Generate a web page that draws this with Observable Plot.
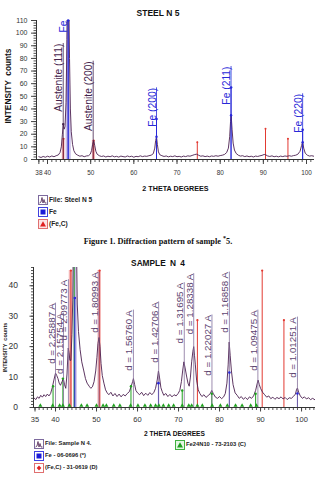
<!DOCTYPE html>
<html><head><meta charset="utf-8">
<script src="https://cdn.jsdelivr.net/npm/d3@7"></script>
<script src="https://cdn.jsdelivr.net/npm/@observablehq/plot@0.6"></script>
<style>
body{margin:0;background:#fff;}
#page{position:relative;width:316px;height:478px;overflow:hidden;font-family:"Liberation Sans",Arial,sans-serif;}
#page > svg{position:absolute;left:0;}
.title{position:absolute;left:0;width:316px;text-align:center;font-weight:bold;color:#111;}
.leg{position:absolute;font-weight:bold;color:#222;display:flex;align-items:center;white-space:nowrap;line-height:1;}
.leg svg{margin-right:1px;flex:none}
.caption{position:absolute;left:0;width:316px;text-align:center;font-family:"Liberation Serif","Times New Roman",serif;font-weight:bold;font-size:8.3px;color:#111;}
</style></head>
<body><div id="page"></div>
<script>
// ---------- TOP CHART DATA (STEEL N 5) ----------
const topTitle = "STEEL N 5";
const topTheta = [38.0,38.5,39.0,39.5,40.0,40.5,41.0,41.5,42.0,42.5,42.9,43.2,43.45,43.65,43.85,44.05,44.3,44.5,44.7,44.9,45.1,45.3,45.5,45.8,46.1,46.5,47.0,47.5,48.0,48.5,49.0,49.5,49.9,50.2,50.45,50.7,50.95,51.2,51.5,52.0,52.5,53.0,53.5,54.0,54.5,55.0,55.5,56.0,56.5,57.0,57.5,58.0,58.5,59.0,59.5,60.0,60.5,61.0,61.5,62.0,62.5,63.0,63.5,64.0,64.5,64.85,65.05,65.25,65.45,65.7,66.0,66.5,67.0,67.5,68.0,68.5,69.0,69.5,70.0,70.5,71.0,71.5,72.0,72.5,73.0,73.5,74.0,74.5,75.0,75.5,76.0,76.5,77.0,77.5,78.0,78.5,79.0,79.5,80.0,80.5,81.0,81.5,81.9,82.2,82.4,82.55,82.75,83.0,83.3,83.7,84.2,84.7,85.2,85.7,86.2,86.7,87.2,87.7,88.2,88.7,89.2,89.7,90.2,90.6,91.0,91.5,92.0,92.5,93.0,93.5,94.0,94.5,95.0,95.5,96.0,96.5,97.0,97.5,98.0,98.5,98.85,99.1,99.35,99.7,100.2,100.7,101.2,101.8];
const topCounts = [2.2,1.6,2.4,1.8,2.6,2.0,2.8,2.2,3.0,3.6,5.5,10,20,28,24,26,45,95,150,140,80,40,22,12,7,4.5,3.4,2.6,3.0,2.2,2.8,3.0,4.2,7,12,15,11,6.5,4.2,3.0,2.4,2.8,2.0,2.6,2.2,2.9,2.1,2.5,1.9,2.7,2.3,2.0,2.8,2.2,2.6,1.8,2.5,2.2,2.9,2.3,2.7,2.5,3.0,3.4,4.6,9,15,18,12,6,3.8,3.0,2.4,2.8,2.1,2.6,2.3,2.9,2.2,2.5,2.0,2.7,2.3,2.9,2.6,3.2,3.8,4.2,3.4,2.6,2.9,2.3,2.7,2.2,2.8,2.5,3.0,2.6,3.1,3.4,4.0,5.5,9,18,30,35,24,13,7.5,4.8,3.4,2.7,3.0,2.3,2.8,2.2,2.6,2.0,2.7,2.4,2.9,3.3,4.0,3.6,2.8,2.4,2.9,2.2,2.6,2.1,2.7,2.3,2.8,2.5,3.0,2.6,3.1,3.4,4.2,6.5,11,14,9,5,3.4,2.7,3.0,2.5];
const topLabelText = ["Austenite (111)","Fe","Austenite (200)","Fe (200)","Fe (211)","Fe (220)"];
const topLabelTheta = [43.64,44.79,50.58,65.25,82.52,99.1];
const topLabelTop = [91.8,110,77.8,56.7,73.6,52];
const topLabelPhase = ["A","Fe","A","Fe","Fe","Fe"];
const topFeTheta = [44.79,65.25,82.52,99.1];
const topFeRef = [110,32,57,23.5];
const topFeCTheta = [43.72,50.7,74.7,90.5,95.7];
const topFeCRef = [16.4,15,13.7,24.3,16.4];
const topPeakTheta = [43.64,65.25,82.52,99.1];
const topPeakCount = [28,18,35,13.7];
const topPeakPhase = ["A","Fe","Fe","Fe"];
const topXTicks = [38,40,50,60,70,80,90,100];
const topYTicks = [0,10,20,30,40,50,60,70,80,90,100,110];
const topLegend = ["File: Steel N 5","Fe","(Fe,C)"];
const captionText = ["Figure 1. Diffraction pattern of sample ","*","5."];

// ---------- BOTTOM CHART DATA (SAMPLE N 4) ----------
const botTitle = "SAMPLE N 4";
const botTheta = [34.7,35.2,35.6,36.0,36.4,36.8,37.2,37.6,38.0,38.4,38.8,39.2,39.6,40.0,40.3,40.6,40.9,41.2,41.6,41.9,42.2,42.5,42.8,43.1,43.3,43.5,43.75,44.0,44.2,44.45,44.65,44.85,45.05,45.3,45.6,46.0,46.4,46.9,47.3,47.7,48.2,48.6,49.0,49.4,49.8,50.1,50.35,50.6,50.85,51.1,51.4,51.8,52.2,52.6,53.0,53.5,54.0,54.5,55.0,55.5,56.0,56.5,57.0,57.5,58.0,58.4,58.8,59.0,59.3,59.6,60.0,60.5,61.0,61.5,62.0,62.5,63.0,63.5,64.0,64.4,64.8,65.1,65.35,65.7,66.0,66.4,66.9,67.4,67.9,68.4,68.9,69.4,69.9,70.3,70.7,71.0,71.3,71.6,72.0,72.3,72.6,72.9,73.2,73.5,73.7,73.9,74.1,74.4,74.8,75.2,75.7,76.2,76.7,77.2,77.7,78.1,78.5,79.0,79.5,80.0,80.5,81.0,81.4,81.8,82.1,82.35,82.6,82.9,83.3,83.8,84.3,84.8,85.3,85.8,86.3,86.8,87.3,87.8,88.3,88.8,89.2,89.4,89.7,90.0,90.5,91.0,91.5,92.0,92.5,93.0,93.5,94.0,94.5,95.0,95.5,96.0,96.5,97.0,97.5,98.0,98.5,98.8,99.0,99.3,99.7,100.2,100.7,101.2,101.7,102.2,102.7,103.3];
const botCounts = [3.2,2.6,3.5,3.0,4.0,3.4,4.2,3.6,4.4,3.8,4.6,6.5,9,11.3,10.5,9.5,8.0,7.3,8.5,9.5,7.5,6.3,11,19.5,18,15.5,15.5,24,35,70,120,110,60,34,25,19,15,12,9.5,8,7,6.3,6.8,8.5,12,16.5,21,23,20,14.5,10.5,8,5.8,4.8,4.2,5.0,3.8,4.6,3.6,4.4,3.5,4.3,3.8,4.6,5.2,6.8,8.5,9.5,7.5,5.6,4.8,4.2,5.0,3.9,4.7,4.0,4.9,4.2,5.0,6.3,9,12,10,6.5,5.3,4.0,4.6,3.6,4.3,3.5,4.2,3.8,4.6,5.6,8.5,12,15,13,10,8,7,10,15,18.5,20,17,14,9,5.8,4.6,3.6,4.2,3.3,3.9,4.5,5.6,4.5,3.4,3.0,3.6,2.9,3.5,4.6,8,14,21.5,17,12,7.5,4.8,4.0,3.0,3.6,2.7,3.3,2.6,3.5,3.0,3.8,5.6,8,9,7.5,6.3,5.0,4.2,3.4,3.8,2.9,3.4,2.7,3.3,2.9,3.5,2.8,3.3,2.6,3.2,3.0,3.6,4.4,6,6.4,5.0,3.8,3.0,3.5,2.8,3.2,2.6,3.0,2.5];
const botDLabels = ["d = 2.25887 A","d = 2.15754 A","d = 2.09773 A","d = 1.80993 A","d = 1.56760 A","d = 1.42706 A","d = 1.31695 A","d = 1.28338 A","d = 1.22027 A","d = 1.16858 A","d = 1.09475 A","d = 1.01251 A"];
const botDTheta = [40.0,41.95,43.15,50.6,59.0,65.15,71.4,73.7,78.15,82.4,89.35,99.0];
const botDTop = [34.3,31,42,44.5,32,34.7,41,44,30.4,44.5,32,29.7];
const botFeTheta = [44.7,65.1,82.4,99.0];
const botFeRef = [36,8,11.5,4.6];
const botFeCTheta = [43.75,50.75,74.6,90.4,95.7];
const botFeCRef = [45,45,28.7,45,28.7];
const botFeCBand = [43.75,50.75];
const botNTheta = [39.4,41.8,44.55,58.4,70.9,78.1,88.8];
const botNRef = [7,9.5,46,7,5.6,4.5,4.5];
const botNMarks = [36.3,39.3,41.0,41.8,43.4,46.3,47.7,50.0,51.6,52.4,54.2,55.7,58.3,60.1,61.8,63.2,64.4,65.2,66.3,67.6,68.8,70.9,72.5,73.2,74.6,75.8,78.2,80.2,81.9,83.9,85.5,87.6,89.0];
const botXTicks = [35,40,50,60,70,80,90,100];
const botYTicks = [0,10,20,30,40];
const botLegend = ["File: Sample N 4.","Fe - 06-0696 (*)","(Fe,C) - 31-0619 (D)","Fe24N10 - 73-2103 (C)"];

// ---------- COLOURS ----------
const profileColor = "#4b1f4f";
const austColor = "#45234c";
const blue = "#2828d8";
const red = "#e23a32";
const pink = "#f3a7a7";
const lav = "#c9bfe8";
const green = "#1fa11f";
const dColor = "#5e4470";
const dLine = "#85709a";
const FONT = '"Liberation Sans", Arial, sans-serif';

const page = document.getElementById("page");

// ---------- TOP CHART ----------
const topProfile = topTheta.map((t, i) => ({t, c: topCounts[i]}));
const topLabels = topLabelText.map((s, i) => ({s, t: topLabelTheta[i], top: topLabelTop[i], ph: topLabelPhase[i]}));
const topFe = topFeTheta.map((t, i) => ({t, v: topFeRef[i]}));
const topFeC = topFeCTheta.map((t, i) => ({t, v: topFeCRef[i]}));
const topPeaks = topPeakTheta.map((t, i) => ({t, v: topPeakCount[i], ph: topPeakPhase[i]}));
const tx0 = 37.45, tx1 = 101.85;

const topChart = Plot.plot({
  width: 316, height: 200,
  marginLeft: 36, marginRight: 2, marginTop: 20, marginBottom: 41,
  x: {domain: [tx0, tx1]},
  y: {domain: [0, 110]},
  style: {fontFamily: FONT, fontSize: "7px", color: "#333", background: "transparent", overflow: "visible"},
  marks: [
    Plot.axisX(d3.range(38, 102, 1), {tickSize: 3, tickFormat: () => "", label: null, stroke: "#555"}),
    Plot.axisX(topXTicks, {tickSize: 5, tickPadding: 6, label: null, stroke: "#444", fill: "#333", fontSize: 6.4}),
    Plot.axisY(d3.range(0, 111, 2), {tickSize: 2.5, tickFormat: () => "", label: null, stroke: "#555"}),
    Plot.axisY(topYTicks, {tickSize: 5, tickPadding: 4, label: null, stroke: "#444", fill: "#333"}),
    Plot.areaY(topProfile.filter(d => d.t >= 44.2 && d.t <= 45.5), {x: d => d.t, y: d => d.c, fill: lav, clip: true}),
    Plot.rect(topFeC.slice(0, 2), {x1: d => d.t - 0.3, x2: d => d.t + 0.3, y1: 0, y2: d => d.v, fill: pink}),
    Plot.ruleX(topFe, {x: d => d.t, y1: 0, y2: d => d.v, stroke: blue, strokeWidth: 1}),
    Plot.ruleX(topFeC, {x: d => d.t, y1: 0, y2: d => d.v, stroke: red, strokeWidth: 1}),
    Plot.dot(topFeC, {x: d => d.t, y: d => d.v, r: 1, fill: red}),
    Plot.line(topProfile, {x: d => d.t, y: d => d.c, stroke: profileColor, strokeWidth: 0.9, clip: true}),
    Plot.ruleX(topLabels, {x: d => d.t, y1: 0, y2: d => d.top, stroke: d => d.ph === "Fe" ? blue : austColor, strokeWidth: 0.8}),
    Plot.text(topLabels, {x: d => d.t, y: d => d.top, text: d => d.s, rotate: -90, textAnchor: "end", lineAnchor: "bottom", dx: -1, fill: d => d.ph === "Fe" ? blue : austColor, fontSize: 10.3}),
    Plot.dot(topFe, {x: d => d.t, y: d => d.v, r: 1.3, fill: blue}),
    Plot.dot(topPeaks, {x: d => d.t, y: d => d.v, r: 1.2, fill: d => d.ph === "Fe" ? blue : austColor}),
    Plot.ruleY([0], {stroke: "#333"}),
    Plot.ruleX([tx0], {stroke: "#333"}),
    Plot.text(["2 THETA DEGREES"], {frameAnchor: "bottom", dy: 31, fontWeight: "bold", fontSize: 7.2, fill: "#111"}),
    Plot.text(["INTENSITY  counts"], {frameAnchor: "left", dx: -28, dy: -4, rotate: -90, textAnchor: "middle", fontWeight: "bold", fontSize: 8.3, fill: "#111"})
  ]
});
topChart.style.top = "0px";
page.appendChild(topChart);

// ---------- BOTTOM CHART ----------
const botProfile = botTheta.map((t, i) => ({t, c: botCounts[i]}));
const botD = botDLabels.map((s, i) => ({s, t: botDTheta[i], top: botDTop[i]}));
const botFe = botFeTheta.map((t, i) => ({t, v: botFeRef[i]}));
const botFeC = botFeCTheta.map((t, i) => ({t, v: botFeCRef[i]}));
const botN = botNTheta.map((t, i) => ({t, v: botNRef[i]}));
const bx0 = 34.63, bx1 = 103.4;

const botChart = Plot.plot({
  width: 316, height: 194,
  marginLeft: 33, marginRight: 1, marginTop: 19, marginBottom: 35,
  x: {domain: [bx0, bx1]},
  y: {domain: [0, 46]},
  style: {fontFamily: FONT, fontSize: "7.5px", color: "#333", background: "transparent", overflow: "visible"},
  marks: [
    Plot.axisX(d3.range(35, 104, 1), {tickSize: 3, tickFormat: () => "", label: null, stroke: "#555"}),
    Plot.axisX(botXTicks, {tickSize: 4.5, tickPadding: 5, label: null, stroke: "#444", fill: "#333", fontSize: 7.5}),
    Plot.axisY(d3.range(0, 47, 1), {tickSize: 2, tickFormat: () => "", label: null, stroke: "#555"}),
    Plot.axisY(botYTicks, {tickSize: 3.5, tickPadding: 12, label: null, stroke: "#444", fill: "#333", fontSize: 8.5}),
    Plot.areaY(botProfile.filter(d => d.t >= 44.45 && d.t <= 45.3), {x: d => d.t, y: d => d.c, fill: lav, clip: true}),
    Plot.rect(botFeCBand, {x1: d => d - 0.4, x2: d => d + 0.4, y1: 0, y2: 45, fill: pink, fillOpacity: 0.85}),
    Plot.ruleX(botN, {x: d => d.t, y1: 0, y2: d => d.v, stroke: green, strokeWidth: 1, clip: true}),
    Plot.ruleX(botFe, {x: d => d.t, y1: 0, y2: d => d.v, stroke: blue, strokeWidth: 1}),
    Plot.ruleX(botFeC, {x: d => d.t, y1: 0, y2: d => d.v, stroke: red, strokeWidth: 1}),
    Plot.line(botProfile, {x: d => d.t, y: d => d.c, stroke: profileColor, strokeWidth: 0.9, clip: true}),
    Plot.ruleX(botD, {x: d => d.t, y1: 0, y2: d => d.top, stroke: dLine, strokeWidth: 0.8}),
    Plot.text(botD, {x: d => d.t, y: d => d.top, text: d => d.s, rotate: -90, textAnchor: "end", lineAnchor: "bottom", dx: -1, fill: dColor, fontSize: 9.8}),
    Plot.dot(botFeC, {x: d => d.t, y: d => d.v, r: 1.1, fill: red}),
    Plot.dot(botFe, {x: d => d.t, y: d => d.v, r: 1.3, fill: blue}),
    Plot.dot(botN.filter(d => d.v < 40), {x: d => d.t, y: d => d.v, r: 1.2, fill: green}),
    Plot.dot(botNMarks, {x: d => d, y: 0, dy: -2, symbol: "triangle", r: 1.5, fill: green}),
    Plot.ruleY([0], {stroke: "#333"}),
    Plot.ruleX([bx0], {stroke: "#333"}),
    Plot.text(["2 THETA DEGREES"], {frameAnchor: "bottom", dy: 28, fontWeight: "bold", fontSize: 6.6, fill: "#111"}),
    Plot.text(["INTENSITY  counts"], {frameAnchor: "left", dx: -28, dy: 10, rotate: -90, textAnchor: "middle", fontWeight: "bold", fontSize: 5.5, fill: "#222"})
  ]
});
botChart.style.top = "248px";
page.appendChild(botChart);

// ---------- TITLES, CAPTION, LEGENDS ----------
function addDiv(cls, text, css) {
  const d = document.createElement("div");
  d.className = cls;
  d.textContent = text;
  Object.assign(d.style, css);
  page.appendChild(d);
  return d;
}
addDiv("title", topTitle, {top: "8px", fontSize: "8.5px"});
addDiv("title", botTitle, {top: "258px", fontSize: "8.3px", wordSpacing: "2px"});

const cap = document.createElement("div");
cap.className = "caption";
cap.style.top = "235px";
cap.appendChild(document.createTextNode(captionText[0]));
const sup = document.createElement("sup");
sup.textContent = captionText[1];
sup.style.fontSize = "6px";
cap.appendChild(sup);
cap.appendChild(document.createTextNode(captionText[2]));
page.appendChild(cap);

const icons = {
  file: '<svg width="10" height="10"><rect x="0.5" y="0.5" width="9" height="9" fill="#fff" stroke="#7d6a9e"/><polyline points="1.5,8 3,7 4,2.5 5,8 6,4.5 7,8 8.5,8" fill="none" stroke="#4b1f4f" stroke-width="0.8"/></svg>',
  fe: '<svg width="10" height="10"><rect x="0.5" y="0.5" width="9" height="9" fill="#fff" stroke="#4040e0"/><rect x="2.5" y="2.5" width="5" height="5" fill="#1a1ad8"/></svg>',
  fec: '<svg width="10" height="10"><rect x="0.5" y="0.5" width="9" height="9" fill="#fde4e4" stroke="#e07070"/><polygon points="5,2.2 8,7.5 2,7.5" fill="#e02020"/></svg>',
  fecD: '<svg width="10" height="10"><rect x="0.5" y="0.5" width="9" height="9" fill="#fff" stroke="#e07070"/><polygon points="5,2.5 7.3,5 5,7.5 2.7,5" fill="#e02020"/></svg>',
  n: '<svg width="10" height="10"><rect x="0.5" y="0.5" width="9" height="9" fill="#e4f6e4" stroke="#40b040"/><polygon points="5,2.2 8,7.5 2,7.5" fill="#1f9f1f"/></svg>'
};
function addLeg(icon, text, left, top, fs) {
  const d = document.createElement("div");
  d.className = "leg";
  d.style.left = left + "px";
  d.style.top = top + "px";
  d.style.fontSize = fs + "px";
  d.innerHTML = icons[icon];
  const s = document.createElement("span");
  s.textContent = text;
  d.appendChild(s);
  page.appendChild(d);
}
addLeg("file", topLegend[0], 38, 195, 6.6);
addLeg("fe", topLegend[1], 38, 207, 6.6);
addLeg("fec", topLegend[2], 38, 219, 6.6);
addLeg("file", botLegend[0], 34, 439, 5.8);
addLeg("fe", botLegend[1], 34, 451, 5.8);
addLeg("fecD", botLegend[2], 34, 463, 5.8);
addLeg("n", botLegend[3], 175, 440, 5.8);
</script></body></html>
